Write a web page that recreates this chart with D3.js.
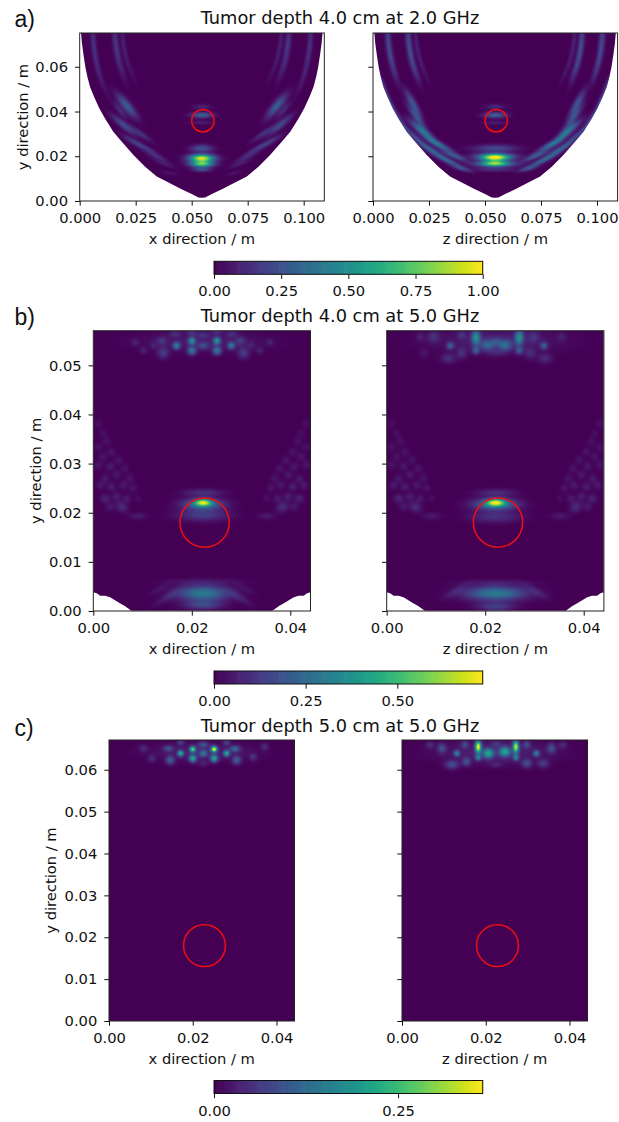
<!DOCTYPE html>
<html><head><meta charset="utf-8">
<script src="https://cdn.jsdelivr.net/npm/d3@7"></script>
<style>html,body{margin:0;padding:0;background:#fff}svg{display:block}text{font-family:"DejaVu Sans",sans-serif}</style>
</head><body><div id="chart"></div>
<script>
// Each spot: [x, y, spread along axis, spread across axis, axis angle in degrees, value]
const aCentreLobesX = [[.0545,.0191,.0038,.0012,0,.95],[.0545,.0165,.0035,.0009,0,.72],[.0545,.0141,.0028,.0007,0,.25],[.0545,.0235,.0033,.0011,0,.25],[.0545,.0384,.0033,.0009,0,.3],[.0545,.0421,.0028,.0008,0,.1],[.0545,.035,.0035,.0006,0,.08]];
const aSideLobesX = [[.0061,.0734,.0045,.0008,-85,.1],[.0068,.066,.0045,.0008,-80,.1],[.0083,.0585,.0045,.0008,-75,.07],[.0106,.0518,.0045,.0008,-68,.04],[.0158,.0734,.0045,.0009,-85,.11],[.0168,.066,.0045,.0009,-80,.11],[.0188,.0585,.0045,.0009,-72,.07],[.0192,.0734,.0045,.0007,-85,.06],[.0204,.066,.0045,.0007,-78,.06],[.0228,.0585,.0045,.0007,-68,.04],[.021,.0425,.0045,.0013,-50,.3],[.018,.0405,.003,.0008,-50,.12],[.0195,.034,.0045,.001,-40,.22],[.027,.0302,.004,.0008,-35,.14],[.024,.0265,.004,.0008,-30,.15],[.0299,.0235,.004,.0007,-28,.13],[.0344,.0198,.004,.0007,-25,.12],[.0373,.0168,.0035,.0006,-22,.08],[.0403,.0124,.0025,.0006,-10,.05]];
const aCentreLobesZ = [[.0545,.0194,.0042,.0011,0,.75],[.0545,.0198,.0065,.0011,0,.32],[.0545,.0168,.0042,.0009,0,.55],[.0545,.0165,.0065,.0009,0,.3],[.0545,.0141,.0065,.0007,0,.12],[.0545,.0235,.0065,.0011,0,.22],[.0545,.0384,.0033,.0009,0,.3],[.0545,.0421,.0028,.0008,0,.12],[.0545,.035,.0035,.0006,0,.07]];
const aSideLobesZ = [[.0068,.0734,.0045,.0009,-85,.15],[.0076,.066,.0045,.0009,-80,.15],[.0094,.0585,.0045,.0009,-74,.12],[.0158,.0734,.0045,.0009,-85,.16],[.0168,.066,.0045,.0009,-80,.16],[.0188,.0585,.0045,.0009,-72,.14],[.0192,.0734,.0045,.0007,-85,.06],[.0204,.066,.0045,.0007,-78,.06],[.0228,.0585,.0045,.0007,-68,.05],[.0046,.0511,.004,.0008,-70,.14],[.0179,.0436,.0045,.001,-60,.26],[.0193,.0377,.0045,.001,-55,.24],[.0223,.031,.005,.0011,-40,.38],[.0298,.025,.0045,.0009,-28,.32],[.0365,.0201,.004,.0008,-22,.26],[.0082,.0422,.0045,.0008,-68,.2],[.0126,.0354,.0045,.0008,-58,.15],[.0186,.0287,.0045,.0008,-42,.2],[.026,.0228,.0045,.0009,-32,.28],[.0335,.018,.0045,.0008,-25,.28],[.0394,.0146,.003,.0007,-15,.18]];
const bSideLobes = [[.001,.0382,.0006,.0006,0,.03],[.002,.0362,.0006,.0006,0,.03],[.0027,.0345,.0006,.0006,0,.035],[.001,.0334,.0006,.0006,0,.035],[.0037,.0324,.0006,.0006,0,.04],[.002,.0314,.0006,.0006,0,.04],[.0051,.0307,.0006,.0006,0,.04],[.0034,.0294,.0006,.0006,0,.05],[.001,.0297,.0006,.0006,0,.04],[.0064,.029,.0006,.0006,0,.04],[.0047,.0277,.0006,.0006,0,.05],[.0024,.027,.0006,.0006,0,.05],[.0074,.027,.0006,.0006,0,.04],[.0061,.0256,.0006,.0006,0,.05],[.0037,.0253,.0006,.0006,0,.06],[.0014,.0256,.0006,.0006,0,.05],[.0081,.025,.0006,.0006,0,.04],[.0047,.0233,.0006,.0006,0,.06],[.0024,.0229,.0007,.0006,0,.07],[.0068,.0229,.0006,.0006,0,.05],[.0058,.0212,.0009,.0007,-30,.09],[.0034,.0212,.0006,.0006,0,.05],[.0091,.0229,.0005,.0005,0,.03],[.0091,.0193,.0012,.0005,0,.05]];
const bLobesX = [[.0223,.0221,.0012,.0005,0,.5],[.0223,.0217,.0028,.0008,0,.28],[.0223,.0195,.0035,.0008,0,.13],[.0223,.0241,.0027,.0005,0,.1],[.0223,.0036,.0035,.0011,0,.3],[.0223,.0012,.0025,.0006,0,.15],[.0223,.006,.0055,.0004,0,.04],[.0152,.0029,.002,.0005,30,.06],[.0294,.0029,.002,.0005,-30,.06],[.0135,.0045,.0015,.0004,30,.03],[.0311,.0045,.0015,.0004,-30,.03]];
const bLobesZ = [[.0221,.0221,.0013,.0005,0,.52],[.0221,.0217,.003,.0008,0,.3],[.0221,.0192,.0035,.0008,0,.1],[.0221,.0241,.0027,.0005,0,.09],[.0221,.0036,.0042,.001,0,.3],[.0221,.0009,.0025,.0006,0,.13],[.0221,.0058,.0055,.0004,0,.04],[.014,.004,.002,.0005,30,.05],[.0302,.004,.0020,.0005,-30,.05]];
const bTopX = [[.0223,.0548,.0085,.0013,0,.05],[.0169,.054,.0005,.0005,0,.3],[.02,.055,.0005,.0005,0,.33],[.0251,.055,.0005,.0005,0,.35],[.028,.054,.0005,.0005,0,.27],[.02,.053,.0006,.0006,0,.27],[.0251,.053,.0006,.0006,0,.27],[.0223,.054,.0008,.0005,0,.14],[.0142,.0525,.0008,.0008,0,.12],[.0305,.0525,.0008,.0008,0,.12],[.0298,.055,.0007,.0006,0,.1],[.0139,.055,.0007,.0006,0,.09],[.0102,.053,.0005,.0005,0,.06],[.0338,.053,.0005,.0005,0,.06],[.0085,.0547,.0005,.0005,0,.06],[.0359,.0547,.0005,.0005,0,.06],[.0122,.0541,.0005,.0005,0,.05],[.0321,.0541,.0005,.0005,0,.05],[.0166,.0564,.0008,.0005,0,.08],[.0223,.0562,.0009,.0005,0,.08],[.0251,.057,.0007,.0005,0,.1],[.02,.0568,.0007,.0005,0,.1],[.028,.0564,.0008,.0005,0,.08]];
const bTopZ = [[.0222,.055,.009,.0017,0,.06],[.0181,.0557,.0006,.0011,0,.33],[.0269,.0557,.0006,.0011,0,.33],[.0204,.0541,.001,.0008,0,.2],[.024,.0541,.001,.0008,0,.22],[.0222,.0548,.0007,.0006,0,.1],[.0129,.054,.0005,.0005,0,.2],[.0319,.054,.0005,.0005,0,.2],[.0181,.053,.0005,.0005,0,.18],[.0269,.053,.0005,.0005,0,.18],[.0095,.0558,.0008,.0008,0,.09],[.0298,.0558,.0008,.0008,0,.08],[.0152,.0562,.0006,.0006,0,.08],[.0125,.0514,.001,.0007,0,.09],[.0152,.0525,.0007,.0008,0,.09],[.0291,.0525,.0008,.0008,0,.08],[.0321,.0514,.001,.0007,0,.08],[.0222,.0525,.0012,.0005,0,.05],[.0068,.0558,.0006,.0006,0,.05],[.0355,.0558,.0006,.0006,0,.05],[.0075,.0525,.0006,.0006,0,.04]];
const cTopX = [[.0225,.0642,.008,.0014,0,.03],[.0251,.0649,.0005,.0005,0,.34],[.02,.0649,.0005,.0005,0,.26],[.0171,.0639,.0005,.0005,0,.2],[.0281,.0639,.0005,.0005,0,.2],[.02,.0627,.0006,.0006,0,.2],[.0251,.0627,.0006,.0006,0,.2],[.0225,.0639,.0007,.0006,0,.11],[.0146,.0623,.0007,.0007,0,.1],[.0305,.0623,.0007,.0007,0,.1],[.0142,.0651,.0008,.0005,0,.08],[.0301,.065,.0008,.0005,0,.11],[.0225,.066,.0009,.0005,0,.08],[.0102,.0627,.0006,.0006,0,.04],[.0082,.0651,.0007,.0006,0,.04],[.0344,.063,.0006,.0006,0,.05],[.0372,.0655,.0006,.0006,0,.04],[.0171,.0665,.0006,.0005,0,.06],[.0281,.0665,.0006,.0005,0,.06],[.0225,.0615,.0008,.0005,0,.03]];
const cTopZ = [[.0225,.0642,.009,.0018,0,.035],[.0182,.0655,.0005,.001,0,.34],[.0272,.0655,.0005,.001,0,.31],[.0206,.0639,.0009,.0008,0,.19],[.0246,.0643,.0009,.0008,0,.19],[.0131,.0639,.0005,.0005,0,.14],[.0321,.0639,.0005,.0005,0,.14],[.0182,.0629,.0005,.0005,0,.13],[.0272,.0629,.0005,.0005,0,.13],[.0095,.0651,.0007,.0008,0,.08],[.0357,.0651,.0007,.0008,0,.08],[.0119,.0612,.0011,.0007,0,.08],[.0154,.0619,.0007,.0007,0,.08],[.0298,.0615,.0008,.0007,0,.08],[.0337,.0615,.0009,.0007,0,.06],[.0067,.0659,.0007,.0006,0,.04],[.0384,.0659,.0007,.0006,0,.04],[.015,.066,.0006,.0006,0,.07],[.0298,.066,.0006,.0006,0,.07],[.0225,.0662,.0008,.0005,0,.04],[.0225,.0612,.001,.0005,0,.03]];

const aOutlineHalf = [[.0006,.0751],[.001,.0705],[.0016,.066],[.0025,.06],[.0034,.0556],[.0046,.0511],[.0064,.0466],[.0088,.0414],[.0113,.0369],[.015,.031],[.0188,.0265],[.024,.0206],[.0292,.0153],[.0344,.0109],[.0403,.0079],[.0455,.0052],[.05,.0031],[.053,.0016],[.0545,.0015]];
const bNotchHalf = [[0,.0038],[.0007,.0036],[.0014,.0031],[.0024,.0031],[.0034,.0028],[.0044,.0022],[.0054,.0016],[.0064,.001],[.0071,.0005],[.0078,0]];

const xTicksA = [0,.025,.05,.075,.1], yTicksA = [0,.02,.04,.06];
const xTicksB = [0,.02,.04], yTicksB = [0,.01,.02,.03,.04,.05];
const xTicksC = [0,.02,.04], yTicksC = [0,.01,.02,.03,.04,.05,.06];
const barTicksA = [0,.25,.5,.75,1], barTicksB = [0,.25,.5], barTicksC = [0,.25];
const titles = ["Tumor depth 4.0 cm at 2.0 GHz","Tumor depth 4.0 cm at 5.0 GHz","Tumor depth 5.0 cm at 5.0 GHz"];
const rowLetters = ["a)","b)","c)"];

const mirror = (list, c) => list.map(([x,y,a,b,t,v]) => [2*c-x,y,a,b,-t,v]);
const withMirror = (list, c) => list.concat(mirror(list, c));
const outlineA = aOutlineHalf.concat(aOutlineHalf.slice().reverse().slice(1).map(([x,y]) => [.109-x,y]));
const outlineB = (xm, ym) => [[0,ym]].concat(bNotchHalf, bNotchHalf.slice().reverse().map(([x,y]) => [xm-x,y]), [[xm,ym]]);

const rows = [
 {left:[79.7,373], w:244.6, top:33, h:168, xMax:.1092, yMax:.0751, xt:xTicksA, yt:yTicksA, fmt:".3f", vMax:1, bt:barTicksA,
  spots:[aCentreLobesX.concat(withMirror(aSideLobesX,.0545)), aCentreLobesZ.concat(withMirror(aSideLobesZ,.0545))],
  outline:[outlineA,outlineA], circle:[.055,.0359,.005], barTop:261.3, titleY:24, letterY:27, xlY:244, ylX:28},
 {left:[93.3,386.7], w:217.2, top:330.7, h:280.3, xMax:.0441, yMax:.05705, xt:xTicksB, yt:yTicksB, fmt:".2f", vMax:.733, bt:barTicksB,
  spots:[bLobesX.concat(bTopX,withMirror(bSideLobes,.0221)), bLobesZ.concat(bTopZ,withMirror(bSideLobes,.0221))],
  outline:[outlineB(.0441,.05705),outlineB(.0441,.05705)], circle:[.0226,.018,.005], barTop:671, titleY:322, letterY:325, xlY:654, ylX:41},
 {left:[109,402], w:185.5, top:740, h:281, xMax:.0443, yMax:.0671, xt:xTicksC, yt:yTicksC, fmt:".2f", vMax:.365, bt:barTicksC,
  spots:[cTopX,cTopZ], outline:[null,null], circle:[.0228,.018,.005], barTop:1080.5, titleY:732, letterY:736, xlY:1064, ylX:56}
];

const svg = d3.select("#chart").append("svg").attr("width",619).attr("height",1122);
const FS = 14.7;
const axisStyle = g => { g.selectAll("text").attr("font-size",FS).attr("fill","#111").attr("font-family","DejaVu Sans"); g.selectAll("line,path").attr("stroke","#111").attr("stroke-width",1); };

function heat(spots, xS, yS, w, h, vMax){
  const cv = document.createElement("canvas"); cv.width = Math.round(w); cv.height = Math.round(h);
  const ctx = cv.getContext("2d"), im = ctx.createImageData(cv.width,cv.height);
  const color = d3.scaleSequential(d3.interpolateViridis).domain([0,vMax]).clamp(true);
  const pre = spots.map(([x,y,a,b,t,v]) => [x,y,a,b,Math.cos(t*Math.PI/180),Math.sin(t*Math.PI/180),v]);
  const ox = xS.range()[0], oy = yS.range()[1];
  for(let j=0;j<cv.height;j++){ const Y = yS.invert(oy+j+.5);
    for(let i=0;i<cv.width;i++){ const X = xS.invert(ox+i+.5); let s=0;
      for(const [x,y,a,b,c,n,v] of pre){ const dx=X-x, dy=Y-y, u=(dx*c+dy*n)/a, q=(-dx*n+dy*c)/b, e=(u*u+q*q)/2; if(e<12) s+=v*Math.exp(-e); }
      const rgb = d3.rgb(color(s)), k=(j*cv.width+i)*4;
      im.data[k]=rgb.r; im.data[k+1]=rgb.g; im.data[k+2]=rgb.b; im.data[k+3]=255; } }
  ctx.putImageData(im,0,0);
  return cv.toDataURL();
}

rows.forEach((r,ri) => {
  [0,1].forEach(p => {
    const L=r.left[p], T=r.top;
    const x=d3.scaleLinear().domain([0,r.xMax]).range([L,L+r.w]);
    const y=d3.scaleLinear().domain([0,r.yMax]).range([T+r.h,T]);
    const id=`clip${ri}${p}`;
    const defs=svg.append("defs").append("clipPath").attr("id",id);
    if(r.outline[p]) defs.append("path").attr("d",d3.line().x(d=>x(d[0])).y(d=>y(d[1])).curve(d3.curveLinear)(r.outline[p])+"Z");
    else defs.append("rect").attr("x",L).attr("y",T).attr("width",r.w).attr("height",r.h);
    svg.append("image").attr("href",heat(r.spots[p],x,y,r.w,r.h,r.vMax)).attr("x",L).attr("y",T).attr("width",Math.round(r.w)).attr("height",Math.round(r.h)).attr("preserveAspectRatio","none").attr("clip-path",`url(#${id})`);
    svg.append("circle").attr("cx",x(r.circle[0])).attr("cy",y(r.circle[1])).attr("r",x(r.circle[2])-x(0)).attr("fill","none").attr("stroke","#ee0f0f").attr("stroke-width",1.5);
    svg.append("rect").attr("x",L).attr("y",T).attr("width",r.w).attr("height",r.h).attr("fill","none").attr("stroke","#222").attr("stroke-width",1);
    svg.append("g").attr("transform",`translate(0,${T+r.h})`).call(d3.axisBottom(x).tickValues(r.xt).tickFormat(d3.format(r.fmt)).tickSize(4.7).tickPadding(7)).call(g=>g.select(".domain").remove()).call(axisStyle);
    svg.append("g").attr("transform",`translate(${L},0)`).call(d3.axisLeft(y).tickValues(r.yt).tickFormat(p===0?d3.format(".2f"):()=>"").tickSize(4.7).tickPadding(7)).call(g=>g.select(".domain").remove()).call(axisStyle);
    svg.append("text").attr("x",L+r.w/2).attr("y",r.xlY).attr("text-anchor","middle").attr("font-size",FS).attr("fill","#111").text((p===0?"x":"z")+" direction / m");
  });
  svg.append("text").attr("transform",`translate(${r.ylX},${r.top+r.h/2}) rotate(-90)`).attr("text-anchor","middle").attr("font-size",FS).attr("fill","#111").text("y direction / m");
  svg.append("text").attr("x",340).attr("y",r.titleY).attr("text-anchor","middle").attr("font-size",17.8).attr("fill","#111").text(titles[ri]);
  svg.append("text").attr("x",14.5).attr("y",r.letterY).attr("font-size",23).style("font-family","Liberation Sans").attr("fill","#111").text(rowLetters[ri]);
  const bx=d3.scaleLinear().domain([0,r.vMax]).range([214,482.7]);
  const col=d3.scaleSequential(d3.interpolateViridis).domain([0,r.vMax]);
  const steps=d3.range(128).map(i=>i/128*r.vMax);
  svg.append("g").selectAll("rect").data(steps).join("rect").attr("x",d=>bx(d)).attr("y",r.barTop).attr("width",d=>bx(r.vMax/128)-bx(0)+.6).attr("height",13).attr("fill",d=>col(d));
  svg.append("rect").attr("x",214).attr("y",r.barTop).attr("width",268.7).attr("height",13).attr("fill","none").attr("stroke","#111").attr("stroke-width",1);
  svg.append("g").attr("transform",`translate(0,${r.barTop+13})`).call(d3.axisBottom(bx).tickValues(r.bt).tickFormat(d3.format(".2f")).tickSize(4.7).tickPadding(7)).call(g=>g.select(".domain").remove()).call(axisStyle);
});
</script></body></html>
